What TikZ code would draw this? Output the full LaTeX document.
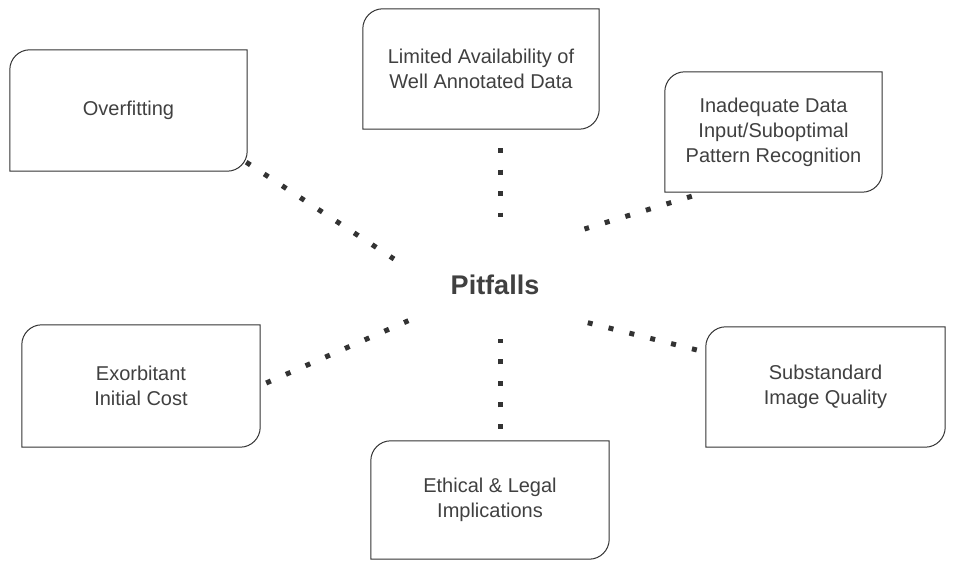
\documentclass[tikz,border=0pt]{standalone}
\usepackage{fontspec}
\setmainfont{Liberation Sans}
\usepackage{tikz}
\definecolor{inkgray}{HTML}{333333}
\definecolor{textgray}{HTML}{404040}
\tikzset{
	pitbox/.style={draw=none, align=center, text=textgray, font=\fontsize{20}{25}\selectfont, inner sep=0pt},
	boxline/.style={draw=inkgray, line width=1pt},
	dotline/.style={draw=inkgray, line width=5pt, dash pattern=on 5pt off 16.5pt},
}
\def\leafbox(#1){\draw[boxline] (#1.north east) -- ([yshift=20pt]#1.south east) arc[start angle=0, end angle=-90, radius=20pt] -- (#1.south west) -- ([yshift=-20pt]#1.north west) arc[start angle=180, end angle=90, radius=20pt] -- cycle;}

\begin{document}
\begin{tikzpicture}[x=1pt, y=1pt]
			%%%%% START %%%%%
			
			\useasboundingbox (0, 0) rectangle (960, 560);
			
			\node[text=textgray, font=\fontsize{27}{30}\selectfont\bfseries] (pit) at (495, 275) {Pitfalls};
			
			\node[pitbox, minimum width=237, minimum height=121] (over) at (128.5, 449.5) {Overfitting};
			\leafbox(over)
			
			\node[pitbox, minimum width=236, minimum height=120] (limited) at (481, 491) {Limited Availability of\\Well Annotated Data};
			\leafbox(limited)
			
			\node[pitbox, minimum width=217, minimum height=120] (inadequate) at (773.5, 428) {Inadequate Data\\Input/Suboptimal\\Pattern Recognition};
			\leafbox(inadequate)
			
			\node[pitbox, minimum width=238, minimum height=122] (exorb) at (141, 174) {Exorbitant\\Initial Cost};
			\leafbox(exorb)
			
			\node[pitbox, minimum width=238, minimum height=118] (ethical) at (490, 60) {Ethical \& Legal\\Implications};
			\leafbox(ethical)
			
			\node[pitbox, minimum width=239, minimum height=120] (subst) at (825.5, 173) {Substandard\\Image Quality};
			\leafbox(subst)
			
			%%%%% DOTTED LINKS %%%%%
			\coordinate (over-in) at ([xshift=-101pt, yshift=26pt]pit.center);
			\coordinate (limited-in) at ([xshift=5pt, yshift=67.5pt]pit.center);
			\coordinate (inadequate-in) at ([xshift=89.5pt, yshift=56pt]pit.center);
			\coordinate (exorb-in) at ([xshift=-86.6pt, yshift=-35.7pt]pit.center);
			\coordinate (ethical-in) at ([xshift=5pt, yshift=-54pt]pit.center);
			\coordinate (subst-in) at ([xshift=92.8pt, yshift=-37.7pt]pit.center);
			
			\draw[dotline] ([xshift=-1pt, yshift=9pt]over.south east) -- (over-in);
			\draw[dotline] ([xshift=19pt, yshift=-19pt]limited.south) -- (limited-in);
			\draw[dotline] ([xshift=27pt, yshift=-4pt]inadequate.south west) -- (inadequate-in);
			\draw[dotline] ([xshift=6pt, yshift=3pt]exorb.east) -- (exorb-in);
			\draw[dotline] ([xshift=10pt, yshift=12pt]ethical.north) -- (ethical-in);
			\draw[dotline] ([xshift=-9pt, yshift=37pt]subst.west) -- (subst-in);
			
			%%%%% END %%%%%
\end{tikzpicture}
\end{document}
